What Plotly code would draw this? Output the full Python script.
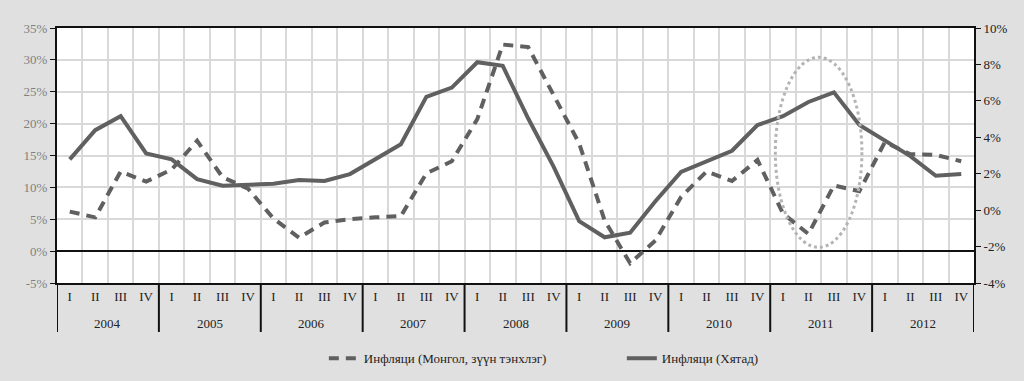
import plotly.graph_objects as go

years = ["2004", "2005", "2006", "2007", "2008", "2009", "2010", "2011", "2012"]
quarters = ["I", "II", "III", "IV"]

mongolia = [6.2, 5.3, 12.5, 10.9, 12.8, 17.3, 11.6, 9.8, 5.1, 2.1, 4.5, 5.0,
            5.3, 5.5, 12.2, 14.1, 20.7, 32.4, 32.0, 24.5, 16.9, 4.8, -1.9, 1.7,
            8.5, 12.5, 11.0, 14.3, 5.9, 2.7, 10.3, 9.4, 17.1, 15.2, 15.1, 14.1]
china = [2.79, 4.39, 5.16, 3.11, 2.79, 1.70, 1.34, 1.41, 1.45, 1.65, 1.60, 1.98,
         2.79, 3.62, 6.22, 6.73, 8.12, 7.92, 5.03, 2.38, -0.60, -1.49, -1.24, 0.50,
         2.10, 2.69, 3.26, 4.67, 5.16, 5.94, 6.47, 4.67, 3.84, 2.97, 1.89, 1.98]

name_mn = "Инфляци (Монгол, зүүн тэнхлэг)"
name_cn = "Инфляци (Хятад)"

left_ticks = [-5, 0, 5, 10, 15, 20, 25, 30, 35]
right_ticks = [-4, -2, 0, 2, 4, 6, 8, 10]

# highlight ellipse (quarter index / left-axis %)
ell_x = (27.7, 31.1)
ell_y = (0.6, 30.4)

nq = len(quarters)
idx = list(range(len(years) * nq))
q_labels = [q for _ in years for q in quarters]
boundaries = [i - 0.5 for i in range(len(idx) + 1)]
year_bounds = [k * nq - 0.5 for k in range(len(years) + 1)]
year_centers = [k * nq + (nq - 1) / 2 for k in range(len(years))]

LINE = "#606060"
FONT = "'Liberation Serif', 'Times New Roman', 'DejaVu Serif', serif"
TXT = "#222222"

fig = go.Figure()
fig.add_trace(go.Scatter(x=idx, y=mongolia, name=name_mn, mode="lines",
                         line=dict(color=LINE, width=4, dash="10px,7px")))
fig.add_trace(go.Scatter(x=idx, y=china, name=name_cn, mode="lines",
                         line=dict(color=LINE, width=4), yaxis="y2"))

fig.add_shape(type="circle", xref="x", yref="y", x0=ell_x[0], x1=ell_x[1],
              y0=ell_y[0], y1=ell_y[1],
              line=dict(color="#b4b4b4", width=3, dash="dot"), layer="above")

# year dividers below the axis
for xb in year_bounds:
    fig.add_shape(type="line", xref="x", yref="paper", x0=xb, x1=xb, y0=0, y1=-0.192,
                  line=dict(color="#111111", width=2), layer="above")
for xc, yr in zip(year_centers, years):
    fig.add_annotation(x=xc, y=-0.157, xref="x", yref="paper", text=yr,
                       showarrow=False, yanchor="middle",
                       font=dict(family=FONT, size=13, color=TXT))

fig.update_layout(
    width=1024, height=381,
    margin=dict(l=57, r=50, t=28, b=98, autoexpand=False),
    paper_bgcolor="#e0e0e0", plot_bgcolor="#ffffff",
    font=dict(family=FONT, size=13, color=TXT),
    showlegend=True,
    legend=dict(orientation="h", x=0.291, xanchor="left", y=-0.295, yanchor="middle",
                font=dict(family=FONT, size=13, color=TXT),
                entrywidth=253, entrywidthmode="pixels",
                bgcolor="rgba(0,0,0,0)"),
    xaxis=dict(range=[-0.5, len(idx) - 0.5], automargin=False,
               tickvals=idx, ticktext=q_labels, ticks="", showgrid=False,
               minor=dict(tickvals=boundaries, showgrid=True, gridcolor="#d9d9d9",
                          gridwidth=1.5, ticks=""),
               zeroline=False,
               showline=True, linecolor="#111111", linewidth=2, mirror=True,
               tickfont=dict(family=FONT, size=13, color=TXT)),
    yaxis=dict(range=[-5, 35], tickvals=left_ticks, automargin=False,
               ticktext=[f"{v}%" for v in left_ticks],
               showgrid=True, gridcolor="#d9d9d9", gridwidth=1.5,
               zeroline=True, zerolinecolor="#111111", zerolinewidth=1.5,
               showline=True, linecolor="#111111", linewidth=2,
               ticks="outside", ticklen=5, tickcolor="#111111",
               tickfont=dict(family=FONT, size=13, color="#808080")),
    yaxis2=dict(range=[-4, 10], tickvals=right_ticks, automargin=False,
                ticktext=[f"{v}%" for v in right_ticks],
                overlaying="y", side="right", showgrid=False, zeroline=False,
                showline=True, linecolor="#111111", linewidth=2,
                ticks="outside", ticklen=5, tickcolor="#111111",
                tickfont=dict(family=FONT, size=13, color=TXT)),
)

fig.write_html("out.html", config={"displayModeBar": False},
               post_script="document.body.style.margin='0';document.body.style.overflow='hidden';")
